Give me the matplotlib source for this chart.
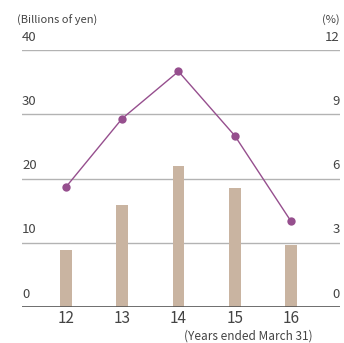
import matplotlib
matplotlib.use('Agg')
import matplotlib.pyplot as plt
import matplotlib.transforms as mtransforms

plt.rcParams['font.family'] = ['Noto Sans CJK JP', 'DejaVu Sans']

years = ['12', '13', '14', '15', '16']
amounts = [8.9, 15.9, 21.9, 18.5, 9.6]      # billions of yen (bars)
ratios = [5.6, 8.8, 11.0, 8.0, 4.0]          # % (line)
left_ticks = [0, 10, 20, 30, 40]
right_ticks = [0, 3, 6, 9, 12]

bar_color = '#c9b4a1'
line_color = '#964f8e'
text_color = '#444444'
grid_color = '#b3b3b3'

fig = plt.figure(figsize=(3.44, 3.43), dpi=100)
ax = fig.add_axes([22 / 344, 36 / 343, 318 / 344, 257 / 343])
ax2 = ax.twinx()

x = list(range(len(years)))
ax.bar(x, amounts, width=0.21, color=bar_color, zorder=2)
ax2.plot(x, ratios, color=line_color, lw=1.0, marker='o', ms=6,
         markeredgewidth=0, zorder=3)

ax.set_xlim(-0.78, 4.87)
ax.set_ylim(0, 40)
ax2.set_ylim(0, 12)

# gridlines, with tick labels sitting above each one
trans = mtransforms.blended_transform_factory(ax.transAxes, ax.transData)
for v in left_ticks[1:]:
    ax.axhline(v, color=grid_color, lw=1.0, zorder=1)
for v in left_ticks:
    ax.text(0.0, v + 1.0, str(v), transform=trans, ha='left', va='bottom',
            fontsize=9.5, color=text_color)
trans2 = mtransforms.blended_transform_factory(ax2.transAxes, ax2.transData)
for v in right_ticks:
    ax2.text(1.0, v + 0.3, str(v), transform=trans2, ha='right', va='bottom',
             fontsize=9.5, color=text_color)
ax.axhline(0, color='#555555', lw=1.2, zorder=4)

for a in (ax, ax2):
    for s in a.spines.values():
        s.set_visible(False)
    a.set_yticks([])
ax.set_xticks(x)
ax.set_xticklabels(years, fontsize=11, color=text_color)
ax.tick_params(axis='x', length=0, pad=2)
ax2.tick_params(axis='x', length=0)

fig.text(17 / 344, 1 - 20 / 343, '(Billions of yen)', fontsize=8,
         color=text_color, ha='left', va='center')
fig.text(340 / 344, 1 - 20 / 343, '(%)', fontsize=8,
         color=text_color, ha='right', va='center')
fig.text(313 / 344, 1 - 336 / 343, '(Years ended March 31)', fontsize=8.5,
         color=text_color, ha='right', va='center')

fig.savefig('out.png', dpi=100)
